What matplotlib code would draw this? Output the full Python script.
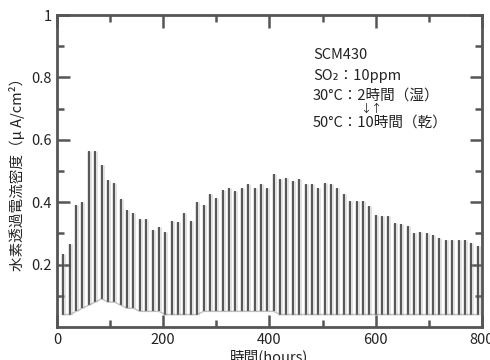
import matplotlib
matplotlib.use('Agg')
import matplotlib.pyplot as plt
import numpy as np

plt.rcParams['font.family'] = ['Noto Sans CJK JP', 'DejaVu Sans']

# one wet/dry cycle every 12 hours
hours = np.arange(12, 793, 12)

# peak current of each cycle (uA/cm2)
peaks = [0.235, 0.265, 0.39, 0.40, 0.565, 0.565, 0.52, 0.47, 0.46, 0.41,
         0.375, 0.365, 0.345, 0.345, 0.31, 0.32, 0.305, 0.34, 0.335, 0.365,
         0.34, 0.40, 0.39, 0.425, 0.415, 0.44, 0.445, 0.435, 0.445, 0.457,
         0.445, 0.457, 0.445, 0.49, 0.473, 0.476, 0.467, 0.473, 0.457, 0.457,
         0.446, 0.462, 0.457, 0.446, 0.425, 0.403, 0.403, 0.403, 0.387, 0.36,
         0.355, 0.355, 0.333, 0.33, 0.323, 0.30, 0.305, 0.30, 0.296, 0.285,
         0.28, 0.28, 0.28, 0.28, 0.27, 0.26]

# minimum current of each cycle
lows = [0.04, 0.04, 0.05, 0.06, 0.07, 0.08, 0.09, 0.08, 0.08, 0.07,
        0.06, 0.06, 0.05, 0.05, 0.05, 0.05, 0.04, 0.04, 0.04, 0.04,
        0.04, 0.04, 0.05, 0.05, 0.05, 0.05, 0.05, 0.05, 0.05, 0.05,
        0.05, 0.05, 0.05, 0.05, 0.04, 0.04, 0.04, 0.04, 0.04, 0.04,
        0.04, 0.04, 0.04, 0.04, 0.04, 0.04, 0.04, 0.04, 0.04, 0.04,
        0.04, 0.04, 0.04, 0.04, 0.04, 0.04, 0.04, 0.04, 0.04, 0.04,
        0.04, 0.04, 0.04, 0.04, 0.04, 0.04]

yticks = [0.2, 0.4, 0.6, 0.8, 1.0]
ytick_labels = ['0.2', '0.4', '0.6', '0.8', '1']
xticks = [0, 200, 400, 600, 800]

fig = plt.figure(figsize=(4.9, 3.6), dpi=100)
ax = fig.add_axes([0.1163, 0.0917, 0.8673, 0.8666])

# faint halo then darker core for each spike
ax.vlines(hours, lows, peaks, color='#999999', linewidth=3.5, alpha=0.3)
ax.vlines(hours, lows, peaks, color='#4a4a4a', linewidth=1.3)
ax.plot(hours, lows, color='#888888', linewidth=1.0, alpha=0.5)

ax.set_xlim(0, 800)
ax.set_ylim(0, 1)
ax.set_xticks(xticks)
ax.set_xticks(np.arange(100, 800, 200), minor=True)
ax.set_yticks(yticks)
ax.set_yticklabels(ytick_labels)
ax.set_yticks(np.arange(0.1, 1.0, 0.2), minor=True)

ax.tick_params(which='both', direction='in', top=True, right=True,
               color='#555555', width=1.8, labelsize=10.5, labelcolor='#222222')
ax.tick_params(which='major', length=9, pad=4)
ax.tick_params(which='minor', length=5)
for sp in ax.spines.values():
    sp.set_color('#555555')
    sp.set_linewidth(2)

ax.set_ylabel('水素透過電流密度（μ A/cm²）', fontsize=10.5, color='#222222', labelpad=4)
ax.set_xlabel('時間(hours)', fontsize=10.5, color='#222222', labelpad=2)

txt = dict(fontsize=10.5, color='#222222', va='center', ha='left')
ax.text(482, 0.871, 'SCM430', **txt)
ax.text(482, 0.806, 'SO₂：10ppm', **txt)
ax.text(482, 0.742, '30°C：2時間（湿）', **txt)
ax.text(570, 0.700, '↓↑', fontsize=8, color='#222222', va='center', ha='left')
ax.text(482, 0.655, '50°C：10時間（乾）', **txt)

fig.savefig('out.png', dpi=100)
